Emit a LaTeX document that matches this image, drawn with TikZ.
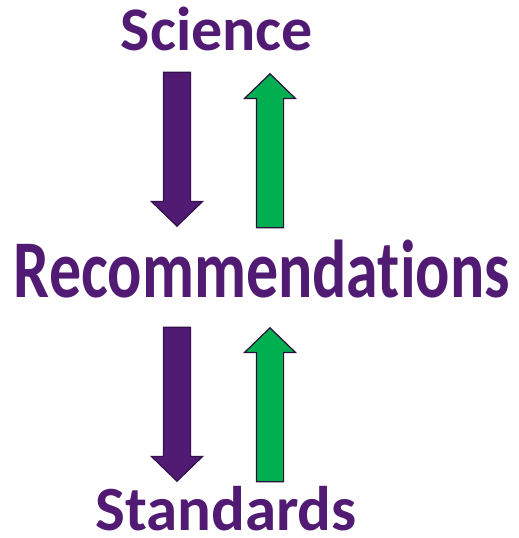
\documentclass[tikz,border=0pt]{standalone}
\usepackage{fontspec}
\setmainfont{Carlito}[Ligatures={NoCommon,NoDiscretionary}]
\usetikzlibrary{shapes.arrows}
\definecolor{deeppurple}{HTML}{511A73}
\definecolor{darkrim}{HTML}{2A0E3E}
\definecolor{leafgreen}{HTML}{00B050}
\tikzset{
  word/.style={anchor=base, inner sep=0pt, text depth=0pt, text=deeppurple, font=\bfseries},
  fatarrow/.style={single arrow, draw, line width=1.2pt, inner sep=13pt,
    minimum width=50pt, minimum height=154pt, single arrow head extend=12pt,
    single arrow tip angle=92, anchor=tip},
  downarrow/.style={fatarrow, fill=deeppurple, draw=darkrim!80!deeppurple, shape border rotate=270},
  uparrow/.style={fatarrow, fill=leafgreen, draw=darkrim, shape border rotate=90},
}
\begin{document}
\begin{tikzpicture}[x=1pt, y=-1pt]
	\useasboundingbox (0,0) rectangle (519,538);
	% words
	\node [word, font=\bfseries\fontsize{62}{62}\selectfont] (sci) at (217,50) {Science};
	\node [word, font=\bfseries\fontsize{82}{82}\selectfont, xscale=0.78] (rec) at (262,297) {Recommendations};
	\node [word, font=\bfseries\fontsize{63}{63}\selectfont] (std) at (226,530) {Standards};
	
	% arrows
	\node [downarrow] (down1) at (177,227) {};
	\node [uparrow] (up1) at (270,73) {};
	\node [downarrow] (down2) at (177,482) {};
	\node [uparrow] (up2) at (270,327) {};
\end{tikzpicture}
\end{document}
